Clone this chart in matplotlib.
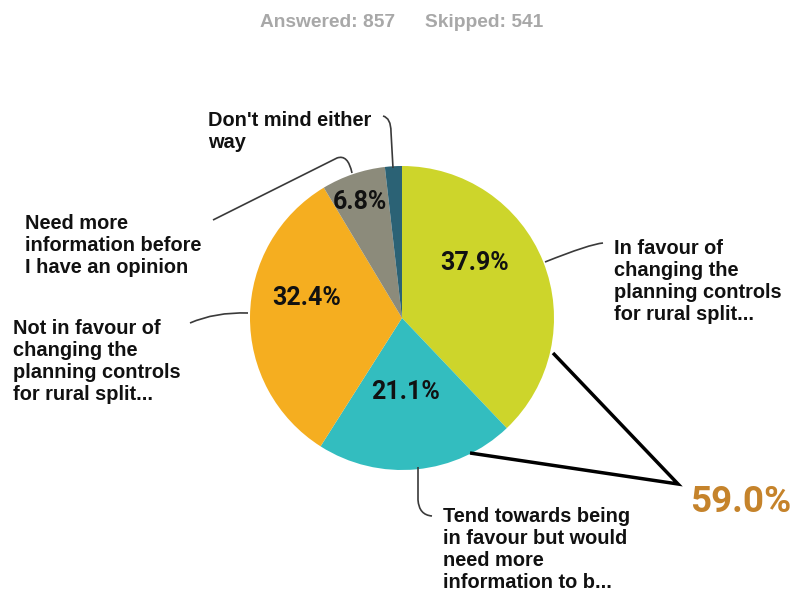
import matplotlib
matplotlib.use("Agg")
import matplotlib.pyplot as plt
from matplotlib.path import Path
from matplotlib.patches import PathPatch

W, H = 795, 594

# Survey responses
categories = [
    "In favour of\nchanging the\nplanning controls\nfor rural split...",
    "Tend towards being\nin favour but would\nneed more\ninformation to b...",
    "Not in favour of\nchanging the\nplanning controls\nfor rural split...",
    "Need more\ninformation before\nI have an opinion",
    "Don't mind either\nway",
]
shares = [37.9, 21.1, 32.4, 6.8, 1.8]
colors = ["#CDD52B", "#33BDBF", "#F5AE20", "#8C8B7B", "#2B6275"]
answered, skipped = 857, 541
combined_favour = shares[0] + shares[1]

fig = plt.figure(figsize=(W / 100, H / 100), dpi=100)
ax = fig.add_axes([0, 0, 1, 1])


def Y(y):
    """Convert a top-down pixel row to data y."""
    return H - y


cx, cy, r = 402, 318, 152
ax.pie(shares, colors=colors, startangle=90, counterclock=False,
       center=(cx, Y(cy)), radius=r, wedgeprops=dict(linewidth=0))

# Percentages inside the slices
pct_pos = [(475, 263), (406, 392), (307, 298), (360, 202)]
for v, (x, y) in zip(shares, pct_pos):
    ax.text(x, Y(y), f"{v:.1f}%", ha="center", va="center",
            fontsize=18, fontweight="bold", family="Roboto", color="#111111")

# Category labels, anchored at the baseline of their last line
lab_font = dict(fontsize=14.4, fontweight="bold", family="Liberation Sans",
                color="#111111", va="baseline", ha="left", linespacing=1.2)
label_pos = [(614, 320), (443, 588), (13, 400), (25, 273), (208, 148)]
for text, (x, y) in zip(categories, label_pos):
    ax.text(x, Y(y), text, **lab_font)

# Leader lines (pixel coordinates, top-down)
leaders = [
    [(Path.MOVETO, (545, 262)), (Path.CURVE3, (590, 244)), (Path.CURVE3, (603, 243))],
    [(Path.MOVETO, (418, 467)), (Path.LINETO, (418, 500)),
     (Path.CURVE3, (419, 515)), (Path.CURVE3, (432, 516))],
    [(Path.MOVETO, (190, 323)), (Path.CURVE3, (215, 312)), (Path.CURVE3, (248, 313))],
    [(Path.MOVETO, (213, 220)), (Path.LINETO, (337, 158)),
     (Path.CURVE3, (348, 154)), (Path.CURVE3, (352, 173))],
    [(Path.MOVETO, (383, 116)), (Path.CURVE3, (391, 118)), (Path.CURVE3, (391, 132)),
     (Path.LINETO, (393, 168))],
]
for seg in leaders:
    codes = [c for c, _ in seg]
    verts = [(x, Y(y)) for _, (x, y) in seg]
    ax.add_patch(PathPatch(Path(verts, codes), facecolor="none",
                           edgecolor="#3a3a3a", lw=1.2))

# Bracket joining the two favourable slices
ax.plot([553, 678, 470], [Y(353), Y(484), Y(453)], color="black", lw=2.5,
        solid_joinstyle="miter", solid_capstyle="butt")
ax.text(690, Y(512), f"{combined_favour:.1f}%", ha="left", va="baseline",
        fontsize=26.5, fontweight="bold", family="Roboto", color="#C5832B")

# Header counts
hdr = dict(fontsize=13.8, fontweight="bold", family="Liberation Sans",
           color="#A8A8A8", va="baseline", ha="left")
ax.text(260, Y(27), f"Answered: {answered}", **hdr)
ax.text(425, Y(27), f"Skipped: {skipped}", **hdr)

ax.set_xlim(0, W)
ax.set_ylim(0, H)
ax.set_aspect("auto")
ax.axis("off")

fig.savefig("out.png", dpi=100, facecolor="white")
